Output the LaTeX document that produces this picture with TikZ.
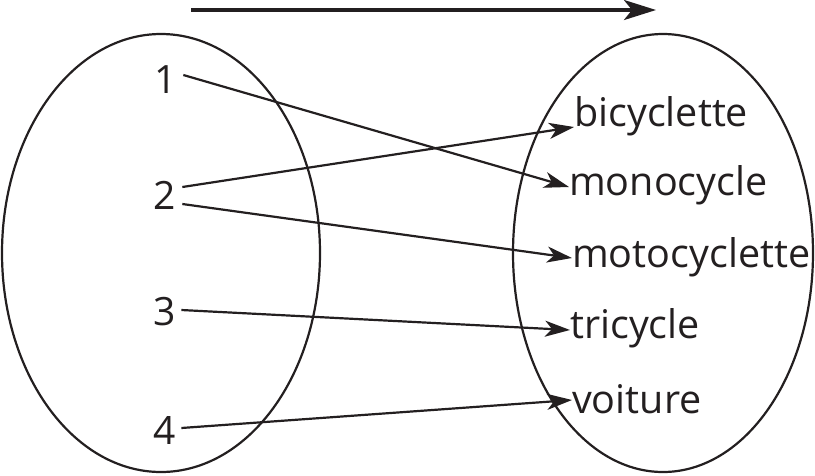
\documentclass[tikz,border=0pt]{standalone}
\usepackage{fontspec}
\setmainfont{Open Sans}
\usetikzlibrary{arrows.meta}
\definecolor{ink}{HTML}{231F20}
\begin{document}
\begin{tikzpicture}[x=1pt,y=-1pt,
  setline/.style={draw=ink,line width=2.2pt},
  maparrow/.style={draw=ink,line width=2.2pt,-{Stealth[length=25pt,width=16pt,inset=7pt]}},
  num/.style={inner sep=0pt,text=ink,font=\fontsize{39}{45}\selectfont},
  word/.style={inner sep=0pt,anchor=west,text=ink,font=\fontsize{39.5}{46}\selectfont}]
\useasboundingbox (0,0) rectangle (815,475);
% direction arrow above the two sets
\coordinate (topL) at (191,10);
\coordinate (topR) at (656,10);
\draw[draw=ink,line width=3.2pt,-{Stealth[length=32pt,width=20pt,inset=8pt]}] (topL) -- (topR);
% the two sets
\draw[setline] (161,253) ellipse [x radius=159, y radius=219];
\draw[setline] (663,253) ellipse [x radius=150, y radius=219];
% domain
\node[num] (n1) at (166,80) {1};
\node[num] (n2) at (165,195) {2};
\node[num] (n3) at (165,312) {3};
\node[num] (n4) at (165,430) {4};
% codomain
\node[word] (bic) at (574,116) {bicyclette};
\node[word] (mono) at (569,185) {monocycle};
\node[word] (moto) at (572,257) {motocyclette};
\node[word] (tri) at (570,328) {tricycle};
\node[word] (voit) at (572,399) {voiture};
% mapping
\draw[maparrow] ([xshift=6pt,yshift=5pt]n1.east) -- ([yshift=-2pt]mono.west);
\draw[maparrow] ([xshift=6pt,yshift=8pt]n2.east) -- ([yshift=-11pt]bic.west);
\draw[maparrow] ([xshift=6pt,yshift=-9pt]n2.east) -- ([yshift=-1pt]moto.west);
\draw[maparrow] ([xshift=5pt,yshift=2pt]n3.east) -- ([yshift=-2pt]tri.west);
\draw[maparrow] ([xshift=5pt,yshift=2pt]n4.east) -- ([yshift=-1pt]voit.west);
\end{tikzpicture}
\end{document}
